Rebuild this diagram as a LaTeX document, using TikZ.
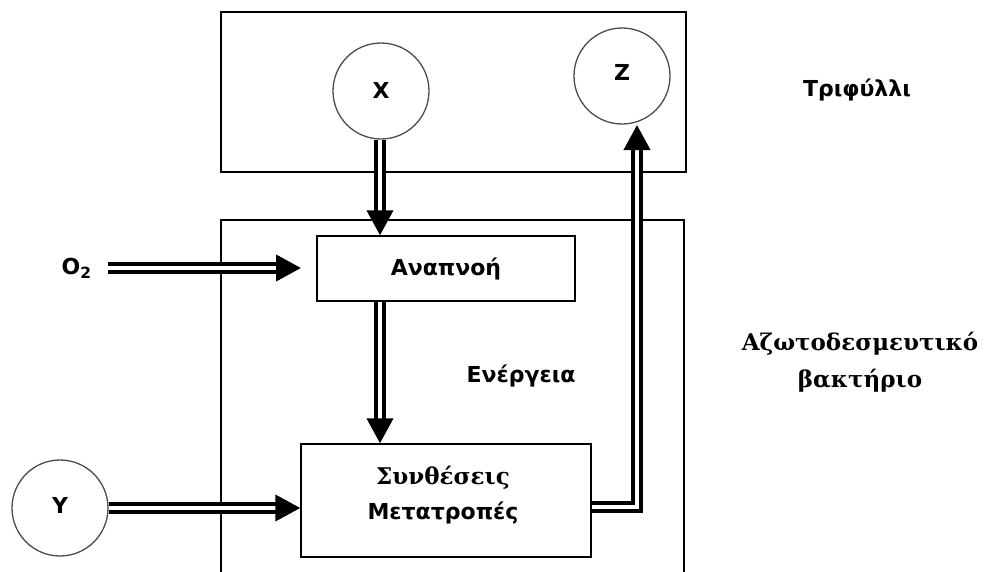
\documentclass[tikz,border=0pt]{standalone}
\usepackage{fontspec}
\setmainfont{DejaVu Sans}
\newfontfamily\lblsans{DejaVu Sans}
\newfontfamily\lblserif{DejaVu Serif}
\usetikzlibrary{arrows.meta,calc}
\tikzset{
  frame/.style={draw=black, line width=1.4pt},
  blockbox/.style={draw=black, line width=1.4pt, inner sep=0pt},
  ball/.style={circle, draw=black!70, line width=1.3pt, minimum size=96pt, inner sep=0pt},
  sanslbl/.style={font=\lblsans\bfseries\fontsize{22}{26}\selectfont},
  seriflbl/.style={font=\lblserif\bfseries\fontsize{23}{27}\selectfont},
  flow/.style={draw=black, line width=4pt, double=white, double distance=3.5pt,
    -{Triangle[length=25pt,width=26pt]}}
}
\begin{document}
\begin{tikzpicture}[x=1pt,y=-1pt]
  \useasboundingbox (0,0) rectangle (986,571);

  % clover compartment and bacterium compartment
  \draw[frame] (221,12) rectangle (686,172);
  \draw[frame] (221,575) -- (221,220) -- (684,220) -- (684,575);

  % substances
  \node[ball] (X) at (381,91) {};
  \node[sanslbl] (Xl) at (381,90) {X};
  \node[ball] (Z) at (622,76) {};
  \node[sanslbl] (Zl) at (622,72) {Z};
  \node[ball] (Y) at (60,508) {};
  \node[sanslbl] (Yl) at (60,505) {Y};
  \node[sanslbl, anchor=east] (O) at (95,268) {O\textsubscript{2}};

  % processes
  \node[blockbox, minimum width=258pt, minimum height=65pt, sanslbl] (anap) at (446,268.5) {Αναπνοή};
  \node[blockbox, minimum width=290pt, minimum height=113pt] (syn) at (446,500.5) {};
  \node[seriflbl] (synA) at (443,478) {Συνθέσεις};
  \node[sanslbl] (synB) at (443,513) {Μετατροπές};

  % labels
  \node[sanslbl] (energy) at (521,376) {Ενέργεια};
  \node[sanslbl] (trif) at (857,90) {Τριφύλλι};
  \node[seriflbl] (bact1) at (860,344) {Αζωτοδεσμευτικό};
  \node[seriflbl] (bact2) at (860,381) {βακτήριο};

  % flows
  \coordinate (oin) at (301,268);
  \coordinate (zin) at (637,125);
  \draw[flow] (X.south -| 380,0) -- (anap.north -| 380,0);
  \draw[flow] (O.east) ++(13,0) -- (oin);
  \draw[flow] (anap.south -| 380,0) -- (syn.north -| 380,0);
  \draw[flow] (Y.east) -- (syn.west |- Y.east);
  \draw[flow] ($(syn.east)+(0,6.5)$) -| (zin);
\end{tikzpicture}
\end{document}
